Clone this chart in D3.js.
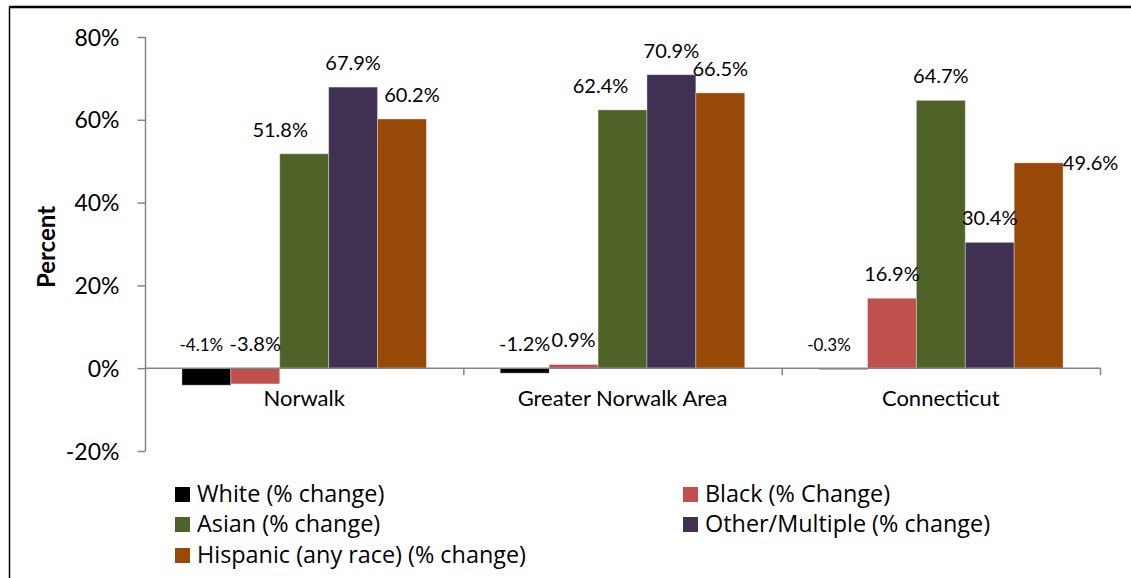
<!DOCTYPE html>
<html>
<head>
<meta charset="utf-8">
<script src="https://cdn.jsdelivr.net/npm/d3@7"></script>
<style>
  body { margin: 0; background: #fff; }
  text { font-family: Lato, "Open Sans", sans-serif; fill: #000; }
</style>
</head>
<body>
<div id="chart"></div>
<script>
"use strict"

const categories = ["Norwalk", "Greater Norwalk Area", "Connecticut"];
const seriesNames = ["White (% change)", "Black (% Change)", "Asian (% change)",
                     "Other/Multiple (% change)", "Hispanic (any race) (% change)"];
const white    = [-4.1, -1.2, -0.3];
const black    = [-3.8,  0.9, 16.9];
const asian    = [51.8, 62.4, 64.7];
const other    = [67.9, 70.9, 30.4];
const hispanic = [60.2, 66.5, 49.6];
const yTicks   = [-20, 0, 20, 40, 60, 80];

const seriesValues = [white, black, asian, other, hispanic];
const colors = ["#000000", "#C0504D", "#4F6228", "#403152", "#984807"];

// a few labels are nudged in the original to avoid overlaps
const labelNudge = new Map([
  ["Norwalk|2", [-24, 0]],
  ["Norwalk|0", [-5, 0]],
  ["Norwalk|4", [10, 0]],
  ["Greater Norwalk Area|2", [-22, 0]],
  ["Connecticut|0", [-14, 0]],
  ["Connecticut|4", [52, 24]]
]);

let W = 1131, H = 578;
let svg = d3.select("#chart").append("svg")
            .attr("width", W)
            .attr("height", H);

// outer frame (left + top edge)
svg.append("line").attr("x1", 9.5).attr("x2", 9.5).attr("y1", 7).attr("y2", H)
   .attr("stroke", "#000").attr("stroke-width", 1.5);
svg.append("line").attr("x1", 9).attr("x2", W).attr("y1", 7).attr("y2", 7)
   .attr("stroke", "#000").attr("stroke-width", 2.5);

let x = d3.scaleBand().domain(categories).range([145, 1100]);
let xs = d3.scaleBand().domain(d3.range(seriesNames.length))
           .range([x.bandwidth() * 0.116, x.bandwidth() * 0.884]);
let y = d3.scaleLinear().domain([-20, 80]).range([451, 37]);

let axisColor = "#868686";

// y axis
let yAxis = svg.append("g")
  .attr("transform", "translate(145.5,0)")
  .call(d3.axisLeft(y).tickValues(yTicks).tickSize(8).tickPadding(18)
          .tickFormat(d => d + "%"));
yAxis.select(".domain").attr("stroke", axisColor).attr("stroke-width", 1.5)
     .attr("d", "M0," + y(80) + "V" + y(-20));
yAxis.selectAll(".tick line").attr("stroke", axisColor).attr("stroke-width", 1.5);
yAxis.selectAll(".tick text").style("font-size", "23px").attr("dy", "0.35em");

svg.append("text")
   .attr("transform", "translate(55,247) rotate(-90)")
   .attr("text-anchor", "middle")
   .style("font-size", "24px")
   .style("font-weight", "bold")
   .text("Percent");

// bars
let groups = svg.selectAll(".grp").data(categories).enter()
  .append("g").attr("class", "grp")
  .attr("transform", d => "translate(" + x(d) + ",0)");

groups.selectAll("rect")
  .data((c, ci) => seriesValues.map((vals, si) => ({cat: c, s: si, v: vals[ci]})))
  .enter().append("rect")
  .attr("x", d => xs(d.s))
  .attr("width", xs.bandwidth())
  .attr("y", d => y(Math.max(0, d.v)))
  .attr("height", d => Math.abs(y(d.v) - y(0)))
  .attr("fill", d => colors[d.s])
  .attr("stroke", "rgba(255,255,255,0.35)")
  .attr("stroke-width", 1);

groups.selectAll(".lbl")
  .data((c, ci) => seriesValues.map((vals, si) => ({cat: c, s: si, v: vals[ci]})))
  .enter().append("text")
  .attr("class", "lbl")
  .attr("text-anchor", "middle")
  .attr("x", d => xs(d.s) + xs.bandwidth() / 2 + (labelNudge.get(d.cat + "|" + d.s) || [0, 0])[0])
  .attr("y", d => y(Math.max(0, d.v)) - 17 + (labelNudge.get(d.cat + "|" + d.s) || [0, 0])[1])
  .style("font-size", d => (d.s === 0 && d.v < -0.2 && d.cat !== "Greater Norwalk Area") ? "17px" : "20px")
  .text(d => d.v.toFixed(1) + "%");

// x axis along zero
let xAxis = svg.append("g");
xAxis.append("line")
  .attr("x1", 145).attr("x2", 1100.5).attr("y1", y(0)).attr("y2", y(0))
  .attr("stroke", axisColor).attr("stroke-width", 1.5);
xAxis.selectAll(".xt").data(categories.slice(1).map(c => x(c)).concat([1100]))
  .enter().append("line")
  .attr("x1", d => d + 0.5).attr("x2", d => d + 0.5)
  .attr("y1", y(0)).attr("y2", y(0) + 7)
  .attr("stroke", axisColor).attr("stroke-width", 1.5);
xAxis.selectAll(".xl").data(categories).enter().append("text")
  .attr("x", d => x(d) + x.bandwidth() / 2)
  .attr("y", y(0) + 38)
  .attr("text-anchor", "middle")
  .style("font-size", "22px")
  .text(d => d);

// legend
let legendPos = [[175, 494], [683, 494], [175, 524], [683, 524], [175, 555]];
let legend = svg.selectAll(".leg").data(seriesNames).enter()
  .append("g").attr("class", "leg")
  .attr("transform", (d, i) => "translate(" + legendPos[i][0] + "," + legendPos[i][1] + ")");
legend.append("rect").attr("x", 0).attr("y", -7).attr("width", 15).attr("height", 15)
  .attr("fill", (d, i) => colors[i]);
legend.append("text").attr("x", 22).attr("y", 0).attr("dy", "0.35em")
  .style("font-family", "'Open Sans', Lato, sans-serif")
  .style("font-size", "23.4px")
  .text(d => d);
</script>
</body>
</html>
